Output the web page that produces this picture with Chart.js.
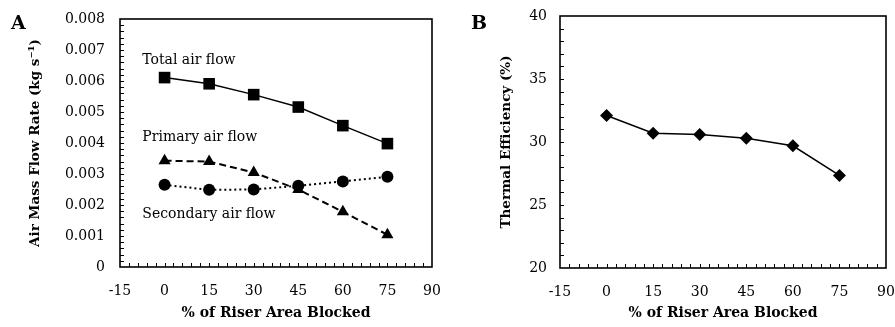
<!DOCTYPE html>
<html>
<head>
<meta charset="utf-8">
<script src="https://cdn.jsdelivr.net/npm/chart.js@4/dist/chart.umd.min.js"></script>
<style>
  body { margin: 0; background: #fff; }
  #wrap { position: relative; width: 895px; height: 327px; }
  canvas { position: absolute; top: 0; }
</style>
</head>
<body>
<div id="wrap">
  <canvas id="chartA" width="447" height="327" style="left:0"></canvas>
  <canvas id="chartB" width="448" height="327" style="left:447px"></canvas>
</div>
<script>
// data
const blocked = [0, 15, 30, 45, 60, 75];
const totalFlow = [0.00611, 0.00591, 0.00556, 0.00516, 0.00456, 0.00398];
const primaryFlow = [0.00343, 0.0034, 0.00305, 0.0025, 0.00178, 0.00104];
const secondaryFlow = [0.00265, 0.00249, 0.0025, 0.00262, 0.00276, 0.00291];
const efficiency = [32.1, 30.7, 30.6, 30.3, 29.7, 27.35];

const xTicks = [-15, 0, 15, 30, 45, 60, 75, 90];
const yTicksA = [0, 0.001, 0.002, 0.003, 0.004, 0.005, 0.006, 0.007, 0.008];
const yTicksB = [20, 25, 30, 35, 40];
const seriesNames = ['Total air flow', 'Primary air flow', 'Secondary air flow'];

const FONT = "'DejaVu Serif', serif";
Chart.defaults.color = '#000';
Chart.defaults.font.family = FONT;
Chart.defaults.font.size = 14;

const pts = ys => blocked.map((x, i) => ({ x: x, y: ys[i] }));

// box round the plot, inward ticks, notes and the panel letter
const framePlugin = {
    id: 'frame',
    beforeDatasetsDraw(chart, args, opts) {
        const { ctx, chartArea: a } = chart;
        const x = chart.scales.x, y = chart.scales.y;
        ctx.save();
        ctx.strokeStyle = '#000';
        ctx.lineWidth = 1;
        ctx.beginPath();
        const nx = Math.round((x.max - x.min) / opts.xStep);
        for (let i = 1; i < nx; i++) {
            const px = Math.round(x.getPixelForValue(x.min + i * opts.xStep)) + 0.5;
            ctx.moveTo(px, a.bottom);
            ctx.lineTo(px, a.bottom - 4);
        }
        const ny = Math.round((y.max - y.min) / opts.yStep);
        for (let i = 1; i < ny; i++) {
            const py = Math.round(y.getPixelForValue(y.min + i * opts.yStep)) + 0.5;
            ctx.moveTo(a.left, py);
            ctx.lineTo(a.left + 4, py);
        }
        ctx.stroke();
        ctx.lineWidth = 1.6;
        ctx.strokeRect(a.left, a.top, a.right - a.left, a.bottom - a.top);
        ctx.restore();
    },
    afterDraw(chart, args, opts) {
        const ctx = chart.ctx;
        const x = chart.scales.x, y = chart.scales.y;
        ctx.save();
        ctx.fillStyle = '#000';
        ctx.textBaseline = 'alphabetic';
        ctx.textAlign = 'left';
        ctx.font = '14px ' + FONT;
        (opts.notes || []).forEach(n => {
            ctx.fillText(n.text, x.getPixelForValue(n.x), y.getPixelForValue(n.y));
        });
        ctx.font = 'bold 19px ' + FONT;
        ctx.fillText(opts.letter, opts.letterX, 29);
        ctx.restore();
    }
};

function xScale(h) {
    return {
        type: 'linear',
        min: -15,
        max: 90,
        afterBuildTicks: s => { s.ticks = xTicks.map(v => ({ value: v })); },
        afterFit: s => { s.height = h; s.paddingLeft = 0; s.paddingRight = 0; },
        grid: { display: false, drawTicks: false },
        border: { display: false },
        ticks: { padding: 16, callback: v => String(v) },
        title: {
            display: true,
            text: '% of Riser Area Blocked',
            font: { size: 14, weight: 'bold' },
            padding: { top: 0, bottom: 5 }
        }
    };
}

function yScale(w, lo, hi, ticks, pad, fmt, text, titlePad) {
    return {
        min: lo,
        max: hi,
        afterBuildTicks: s => { s.ticks = ticks.map(v => ({ value: v })); },
        afterFit: s => { s.width = w; s.paddingTop = 0; s.paddingBottom = 0; },
        grid: { display: false, drawTicks: false },
        border: { display: false },
        ticks: { padding: pad, callback: fmt },
        title: {
            display: true,
            text: text,
            font: { size: 13.5, weight: 'bold' },
            padding: { top: titlePad, bottom: 0 }
        }
    };
}

new Chart(document.getElementById('chartA'), {
    type: 'line',
    data: {
        datasets: [
            {
                label: seriesNames[0],
                data: pts(totalFlow),
                borderColor: '#000',
                backgroundColor: '#000',
                borderWidth: 1.5,
                pointStyle: 'rect',
                pointRadius: 8.2,
                pointBorderWidth: 0
            },
            {
                label: seriesNames[1],
                data: pts(primaryFlow),
                borderColor: '#000',
                backgroundColor: '#000',
                borderWidth: 2,
                borderDash: [7, 4],
                pointStyle: 'triangle',
                pointRadius: 7,
                pointBorderWidth: 0
            },
            {
                label: seriesNames[2],
                data: pts(secondaryFlow),
                borderColor: '#000',
                backgroundColor: '#000',
                borderWidth: 2,
                borderDash: [2, 3],
                pointStyle: 'circle',
                pointRadius: 6,
                pointBorderWidth: 0
            }
        ]
    },
    options: {
        responsive: false,
        animation: false,
        layout: { padding: { top: 19, right: 15, left: 0, bottom: 0 } },
        plugins: {
            legend: { display: false },
            tooltip: { enabled: false },
            frame: {
                xStep: 3,
                yStep: 0.0002,
                letter: 'A',
                letterX: 11,
                notes: [
                    { text: seriesNames[0], x: -7.5, y: 0.00655 },
                    { text: seriesNames[1], x: -7.5, y: 0.00405 },
                    { text: seriesNames[2], x: -7.5, y: 0.00158 }
                ]
            }
        },
        scales: {
            x: xScale(60),
            y: yScale(120, 0, 0.008, yTicksA, 15, v => v === 0 ? '0' : v.toFixed(3),
                'Air Mass Flow Rate (kg s⁻¹)', 27)
        }
    },
    plugins: [framePlugin]
});

new Chart(document.getElementById('chartB'), {
    type: 'line',
    data: {
        datasets: [
            {
                label: 'Thermal Efficiency',
                data: pts(efficiency),
                borderColor: '#000',
                backgroundColor: '#000',
                borderWidth: 1.5,
                pointStyle: 'rectRot',
                pointRadius: 6.5,
                pointBorderWidth: 0
            }
        ]
    },
    options: {
        responsive: false,
        animation: false,
        layout: { padding: { top: 16, right: 9, left: 0, bottom: 0 } },
        plugins: {
            legend: { display: false },
            tooltip: { enabled: false },
            frame: { xStep: 3, yStep: 1, letter: 'B', letterX: 24 }
        },
        scales: {
            x: xScale(59),
            y: yScale(113, 20, 40, yTicksB, 13, v => String(v), 'Thermal Efficiency (%)', 51)
        }
    },
    plugins: [framePlugin]
});
</script>
</body>
</html>
